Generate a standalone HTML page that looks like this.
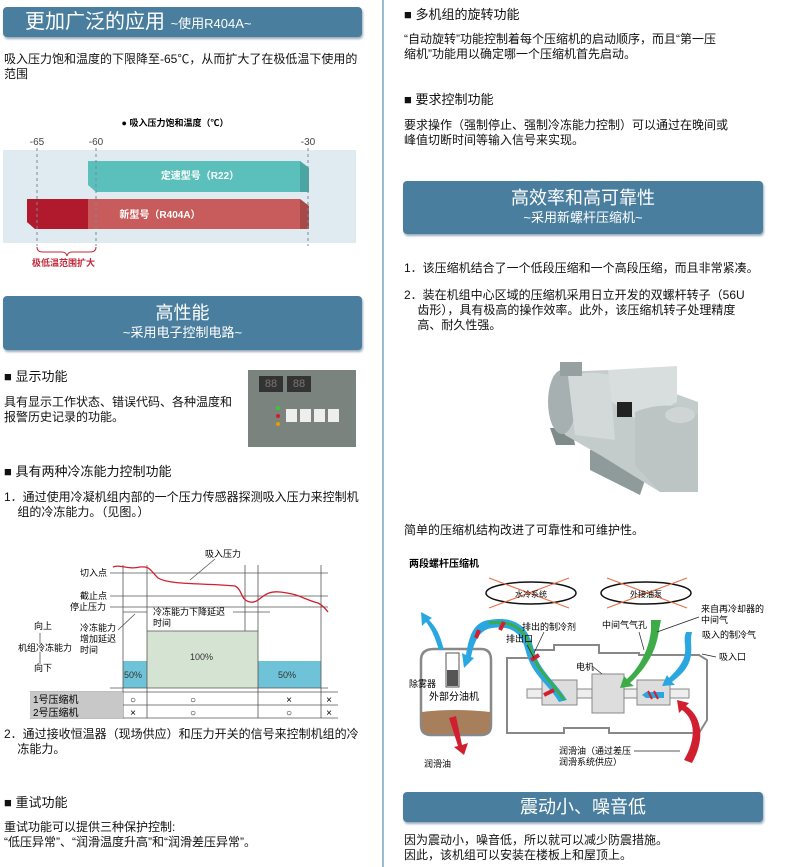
<!DOCTYPE html>
<html><head><meta charset="utf-8">
<style>
body{margin:0;width:788px;height:867px;background:#fff;position:relative;overflow:hidden;font-family:"Liberation Sans","Noto Sans CJK SC",sans-serif;color:#111}
.a{position:absolute;white-space:nowrap;font-size:12px;line-height:15px}
.hd{position:absolute;background:#4a7e9e;border-radius:4px;color:#fff;box-shadow:1px 2px 2px #9ab}
.b{font-size:13px}
</style></head><body>
<div style="position:absolute;left:382px;top:0;width:2px;height:867px;background:#9bbad0"></div>

<!-- LEFT -->
<div class="hd" style="left:3px;top:7px;width:359px;height:30px"><span style="position:absolute;left:22px;top:2px;font-size:20px;line-height:26px">更加广泛的应用 <span style="font-size:13px">~使用R404A~</span></span></div>
<div class="a" style="left:4px;top:52px">吸入压力饱和温度的下限降至-65℃，从而扩大了在极低温下使用的<br>范围</div>

<svg style="position:absolute;left:0;top:110px" width="370" height="165" viewBox="0 110 370 165">
<text x="175" y="126" font-size="9" font-weight="bold" text-anchor="middle" font-family="Liberation Sans,Noto Sans CJK SC,sans-serif">● 吸入压力饱和温度（℃）</text>
<text x="37" y="145" font-size="10" text-anchor="middle" fill="#444">-65</text>
<text x="96" y="145" font-size="10" text-anchor="middle" fill="#444">-60</text>
<text x="308" y="145" font-size="10" text-anchor="middle" fill="#444">-30</text>
<rect x="3" y="150" width="353" height="93" fill="#dfeaf1"/>
<path d="M88 161H300L309 168V192H96L88 185Z" fill="#5bbfbb"/>
<path d="M300 161L309 168V192H300Z" fill="#4aa6a2"/>
<text x="200" y="179" font-size="10" font-weight="bold" fill="#fff" text-anchor="middle" font-family="Liberation Sans,Noto Sans CJK SC,sans-serif">定速型号（R22）</text>
<path d="M27 199H300L309 206V229H35L27 222Z" fill="#c85b5b"/>
<path d="M27 199H88V229H35L27 222Z" fill="#b01a2c"/>
<path d="M300 199L309 206V229H300Z" fill="#a84848"/>
<text x="160" y="218" font-size="10" font-weight="bold" fill="#fff" text-anchor="middle" font-family="Liberation Sans,Noto Sans CJK SC,sans-serif">新型号（R404A）</text>
<g stroke="#7a8a9a" stroke-dasharray="3,3" stroke-width="1"><line x1="37" y1="148" x2="37" y2="246"/><line x1="96" y1="148" x2="96" y2="246"/><line x1="308" y1="148" x2="308" y2="246"/></g>
<path d="M37 247Q37 252 43 252H62Q66 252 67 256Q68 252 72 252H90Q96 252 96 247" fill="none" stroke="#c0283a" stroke-width="1"/>
<text x="32" y="266" font-size="9" font-weight="bold" fill="#c0283a" font-family="Liberation Sans,Noto Sans CJK SC,sans-serif">极低温范围扩大</text>
</svg>

<div class="hd" style="left:3px;top:296px;width:359px;height:54px;text-align:center"><div style="font-size:18px;line-height:22px;margin-top:6px">高性能</div><div style="font-size:13px;line-height:18px">~采用电子控制电路~</div></div>

<div class="a b" style="left:4px;top:369px">■ 显示功能</div>
<div class="a" style="left:4px;top:395px">具有显示工作状态、错误代码、各种温度和<br>报警历史记录的功能。</div>
<div style="position:absolute;left:248px;top:370px;width:108px;height:77px;background:#7b837f">
 <div style="position:absolute;left:11px;top:6px;width:24px;height:16px;background:#333;color:#777;font-size:11px;line-height:16px;text-align:center">88</div>
 <div style="position:absolute;left:39px;top:6px;width:24px;height:16px;background:#333;color:#777;font-size:11px;line-height:16px;text-align:center">88</div>
 <div style="position:absolute;left:38px;top:39px;width:11px;height:13px;background:#eee"></div>
 <div style="position:absolute;left:52px;top:39px;width:11px;height:13px;background:#eee"></div>
 <div style="position:absolute;left:66px;top:39px;width:11px;height:13px;background:#eee"></div>
 <div style="position:absolute;left:80px;top:39px;width:11px;height:13px;background:#eee"></div>
 <div style="position:absolute;left:28px;top:36px;width:4px;height:4px;border-radius:50%;background:#3c3"></div>
 <div style="position:absolute;left:28px;top:44px;width:4px;height:4px;border-radius:50%;background:#c22"></div>
 <div style="position:absolute;left:28px;top:52px;width:4px;height:4px;border-radius:50%;background:#e90"></div>
</div>

<div class="a b" style="left:4px;top:464px">■ 具有两种冷冻能力控制功能</div>
<div class="a" style="left:4px;top:490px">1．通过使用冷凝机组内部的一个压力传感器探测吸入压力来控制机<br>&nbsp;&nbsp;&nbsp;&nbsp;组的冷冻能力。（见图。）</div>

<svg style="position:absolute;left:0;top:530px" width="394" height="195" viewBox="0 0 394 195" font-family="Liberation Sans,Noto Sans CJK SC,sans-serif" font-size="9">
<rect x="123" y="131" width="24" height="27" fill="#6ec3d8"/>
<rect x="147" y="101" width="111" height="57" fill="#d5e3d3"/>
<rect x="258" y="131" width="63" height="27" fill="#6ec3d8"/>
<g stroke="#555" stroke-width="0.8" fill="none">
<line x1="110" y1="43" x2="328" y2="43"/><line x1="110" y1="66" x2="328" y2="66"/><line x1="110" y1="77" x2="328" y2="77"/><line x1="110" y1="158" x2="328" y2="158"/>
<line x1="123" y1="35" x2="123" y2="188"/><line x1="147" y1="35" x2="147" y2="188"/><line x1="245" y1="35" x2="245" y2="101"/><line x1="258" y1="35" x2="258" y2="188"/><line x1="321" y1="35" x2="321" y2="188"/>
<line x1="147" y1="101" x2="258" y2="101"/>
<line x1="30" y1="162" x2="338" y2="162"/><line x1="30" y1="175" x2="338" y2="175"/><line x1="30" y1="188" x2="338" y2="188"/>
<line x1="123" y1="82" x2="147" y2="82"/><line x1="233" y1="82" x2="270" y2="82"/>
<line x1="135" y1="84" x2="118" y2="100"/><line x1="215" y1="29" x2="190" y2="50"/>
<line x1="40" y1="103" x2="40" y2="114"/><line x1="40" y1="122" x2="40" y2="134"/>
</g>
<rect x="30" y="162" width="93" height="26" fill="#c8c8c8"/>
<path d="M113 37C120 34 128 40 140 37C150 36 150 40 158 48C170 55 200 53 235 56C243 60 240 70 250 72C260 74 262 60 280 62C300 64 305 70 318 73C322 75 325 78 328 82" fill="none" stroke="#d02030" stroke-width="1.3"/>
<text x="205" y="27">吸入压力</text>
<text x="80" y="46">切入点</text>
<text x="80" y="69">截止点</text>
<text x="70" y="80">停止压力</text>
<text x="153" y="85">冷冻能力下降延迟</text><text x="153" y="96">时间</text>
<text x="80" y="101">冷冻能力</text><text x="80" y="112">增加延迟</text><text x="80" y="123">时间</text>
<text x="34" y="99">向上</text><text x="18" y="121">机组冷冻能力</text><text x="34" y="141">向下</text>
<text x="124" y="148" fill="#333">50%</text><text x="190" y="130" fill="#333">100%</text><text x="278" y="148" fill="#333">50%</text>
<text x="33" y="173" font-size="10">1号压缩机</text><text x="33" y="186" font-size="10">2号压缩机</text>
<g font-size="10" text-anchor="middle"><text x="133" y="173">○</text><text x="193" y="173">○</text><text x="289" y="173">×</text><text x="329" y="173">×</text>
<text x="133" y="186">×</text><text x="193" y="186">○</text><text x="289" y="186">○</text><text x="329" y="186">×</text></g>
</svg>

<div class="a" style="left:4px;top:727px">2．通过接收恒温器（现场供应）和压力开关的信号来控制机组的冷<br>&nbsp;&nbsp;&nbsp;&nbsp;冻能力。</div>
<div class="a b" style="left:4px;top:795px">■ 重试功能</div>
<div class="a" style="left:4px;top:820px">重试功能可以提供三种保护控制:<br>“低压异常”、“润滑温度升高”和“润滑差压异常”。</div>

<!-- RIGHT -->
<div class="a b" style="left:404px;top:7px">■ 多机组的旋转功能</div>
<div class="a" style="left:404px;top:32px">“自动旋转”功能控制着每个压缩机的启动顺序，而且“第一压<br>缩机”功能用以确定哪一个压缩机首先启动。</div>
<div class="a b" style="left:404px;top:92px">■ 要求控制功能</div>
<div class="a" style="left:404px;top:118px">要求操作（强制停止、强制冷冻能力控制）可以通过在晚间或<br>峰值切断时间等输入信号来实现。</div>

<div class="hd" style="left:403px;top:181px;width:360px;height:53px;text-align:center"><div style="font-size:18px;line-height:22px;margin-top:6px">高效率和高可靠性</div><div style="font-size:13px;line-height:18px">~采用新螺杆压缩机~</div></div>
<div class="a" style="left:404px;top:261px">1．该压缩机结合了一个低段压缩和一个高段压缩，而且非常紧凑。</div>
<div class="a" style="left:404px;top:288px">2．装在机组中心区域的压缩机采用日立开发的双螺杆转子（56U<br>&nbsp;&nbsp;&nbsp;&nbsp;齿形），具有极高的操作效率。此外，该压缩机转子处理精度<br>&nbsp;&nbsp;&nbsp;&nbsp;高、耐久性强。</div>

<svg style="position:absolute;left:520px;top:340px" width="180" height="170" viewBox="0 0 180 170">
<path d="M30 88H52L55 105H36Z" fill="#7f8a8a"/>
<path d="M70 110L100 105L125 140L120 155L70 130Z" fill="#8f9a9a"/>
<path d="M38 32L90 30L178 62V152L140 152L80 115L45 95Q22 62 38 32Z" fill="#c3cbcb"/>
<ellipse cx="42" cy="62" rx="14" ry="32" fill="#a7b0b0"/>
<path d="M48 36Q70 30 90 35L95 100L55 95Z" fill="#d3d9d9"/>
<rect x="40" y="22" width="22" height="14" fill="#96a0a0"/>
<path d="M88 30L157 26V62L120 82L92 62Z" fill="#d8dddd"/>
<path d="M115 72Q150 58 178 75V152H140L115 125Z" fill="#bcc4c4"/>
<ellipse cx="160" cy="75" rx="15" ry="8" fill="#cfd5d5"/>
<rect x="97" y="62" width="15" height="15" fill="#222"/>
</svg>

<div class="a" style="left:404px;top:523px">简单的压缩机结构改进了可靠性和可维护性。</div>

<svg style="position:absolute;left:394px;top:550px" width="394" height="230" viewBox="0 0 394 230" font-family="Liberation Sans,Noto Sans CJK SC,sans-serif" font-size="9">
<text x="15" y="17" font-weight="bold" font-size="10">两段螺杆压缩机</text>
<ellipse cx="137" cy="43" rx="45" ry="11" fill="none" stroke="#111" stroke-width="1.5"/>
<ellipse cx="252" cy="43" rx="45" ry="11" fill="none" stroke="#111" stroke-width="1.5"/>
<g stroke="#e8704a" stroke-width="1.2"><line x1="95" y1="28" x2="175" y2="58"/><line x1="95" y1="58" x2="175" y2="28"/><line x1="213" y1="28" x2="293" y2="58"/><line x1="213" y1="58" x2="293" y2="28"/></g>
<text x="137" y="47" text-anchor="middle" font-size="8">水冷系统</text><text x="252" y="47" text-anchor="middle" font-size="8">外接油泵</text>
<path d="M27 110Q27 99 40 99H87Q97 99 97 110V175Q97 185 87 185H37Q27 185 27 175Z" fill="#fff" stroke="#888" stroke-width="2.5"/>
<path d="M28 162Q60 158 96 162V176Q96 184 87 184H37Q28 184 28 176Z" fill="#a77f5c"/>
<rect x="52" y="103" width="13" height="34" fill="#fff" stroke="#555"/>
<rect x="53" y="120" width="11" height="16" fill="#555"/>
<text x="15" y="137">除雾器</text><text x="35" y="150" font-size="10">外部分油机</text>
<text x="30" y="217">润滑油</text>
<path d="M55 168L62 166L68 195L74 193L70 205L60 197L64 196Z" fill="#d02030"/>
<path d="M45 100C40 85 38 80 32 72L28 76L27 62L38 68L35 70C45 80 47 90 50 100Z" fill="#2aa7e0"/>
<path d="M113 108H135V100H160V95H205V103H245V105H305L313 110V170L305 183H215V178H170V183H113Z" fill="none" stroke="#888" stroke-width="2"/>
<rect x="133" y="139" width="162" height="9" fill="#eee" stroke="#888"/>
<rect x="148" y="130" width="35" height="25" fill="#ddd" stroke="#888"/>
<rect x="198" y="124" width="32" height="39" fill="#ddd" stroke="#888"/>
<rect x="243" y="130" width="33" height="25" fill="#ddd" stroke="#888"/>
<path d="M173 150C160 130 145 120 140 100C135 80 125 65 95 70C80 72 75 85 72 105L68 103L70 118L80 108L77 107C80 92 85 80 98 78C120 75 128 85 132 102C138 125 155 135 165 152Z" fill="#2aa7e0"/>
<path d="M170 150C157 130 142 120 137 100C132 82 122 70 95 73" fill="none" stroke="#3cab48" stroke-width="3"/>
<path d="M160 140L150 145M145 105L137 110M110 72L106 80M85 80L82 88" stroke="#d02030" stroke-width="4"/>
<path d="M257 70L267 70L265 80C262 105 248 122 236 133L240 136L226 138L230 126L233 129C245 118 255 100 257 80Z" fill="#3cab48"/>
<path d="M298 82C296 90 298 95 297 105C295 118 287 125 278 132L281 135L268 136L273 125L275 128C283 120 290 112 291 103C292 95 289 90 292 82Z" fill="#2aa7e0"/>
<path d="M252 142H270V148H252L248 145Z" fill="#2aa7e0"/><path d="M254 141L258 149M260 141L264 149" stroke="#d02030" stroke-width="2"/>
<path d="M290 210C302 190 302 170 288 160L285 163L283 150L295 153L292 156C310 168 310 192 298 213Z" fill="#d02030"/>
<text x="128" y="80">排出的制冷剂</text><line x1="150" y1="82" x2="140" y2="103" stroke="#222" stroke-width="0.7"/>
<text x="112" y="92">排出口</text><line x1="133" y1="95" x2="140" y2="108" stroke="#222" stroke-width="0.7"/>
<text x="208" y="78">中间气气孔</text><line x1="245" y1="82" x2="250" y2="100" stroke="#222" stroke-width="0.7"/>
<text x="307" y="62">来自再冷却器的</text><text x="307" y="73">中间气</text><line x1="305" y1="67" x2="263" y2="82" stroke="#222" stroke-width="0.7"/>
<text x="308" y="88">吸入的制冷气</text>
<text x="325" y="110">吸入口</text><line x1="322" y1="107" x2="308" y2="104" stroke="#222" stroke-width="0.7"/>
<text x="182" y="120">电机</text><line x1="198" y1="116" x2="208" y2="124" stroke="#222" stroke-width="0.7"/>
<text x="165" y="204">润滑油（通过差压</text><text x="165" y="215">润滑系统供应）</text><line x1="240" y1="201" x2="286" y2="201" stroke="#222" stroke-width="0.7"/>
</svg>

<div class="hd" style="left:403px;top:792px;width:360px;height:30px;text-align:center;font-size:18px;line-height:30px">震动小、噪音低</div>
<div class="a" style="left:404px;top:833px">因为震动小，噪音低，所以就可以减少防震措施。<br>因此，该机组可以安装在楼板上和屋顶上。</div>
</body></html>
